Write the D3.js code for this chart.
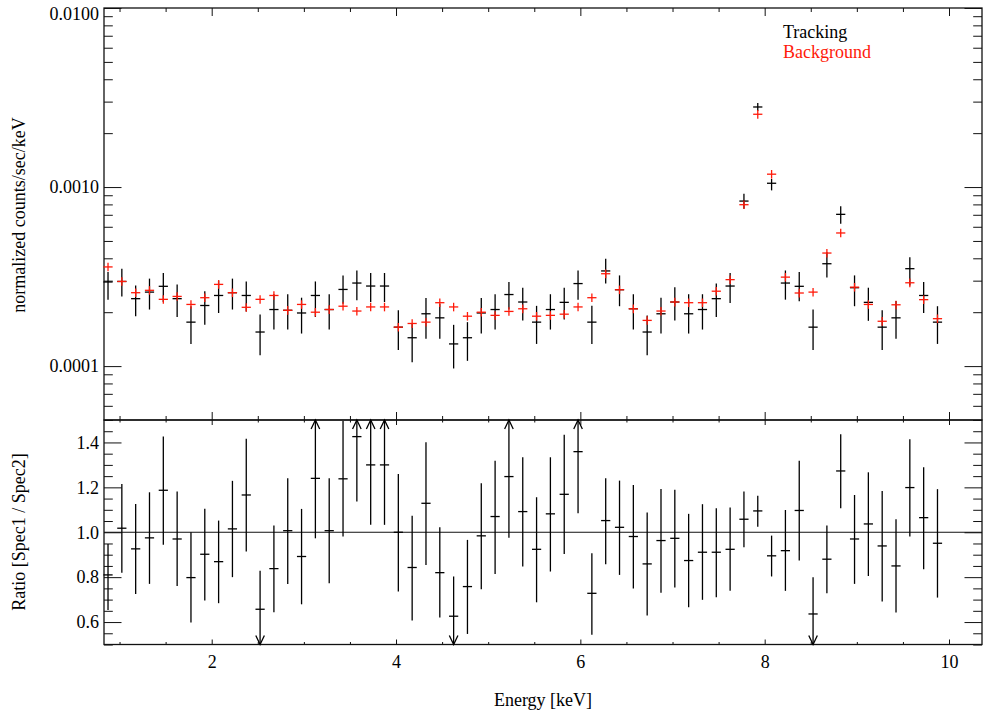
<!DOCTYPE html>
<html>
<head>
<meta charset="utf-8">
<script src="https://cdn.jsdelivr.net/npm/d3@7"></script>
<style>
body{margin:0;background:#fff;}
.canvas text{font-family:"Liberation Serif","Times New Roman",serif;font-size:18px;fill:#000;}
</style>
</head>
<body>
<div class="canvas"></div>
<script>
//bin centres in keV
var energy = [0.875,1.025,1.175,1.325,1.475,1.625,1.775,1.925,2.075,2.225,
    2.375,2.525,2.675,2.825,2.975,3.125,3.275,3.425,3.575,3.725,
    3.875,4.025,4.175,4.325,4.475,4.625,4.775,4.925,5.075,5.225,
    5.375,5.525,5.675,5.825,5.975,6.125,6.275,6.425,6.575,6.725,
    6.875,7.025,7.175,7.325,7.475,7.625,7.775,7.925,8.075,8.225,
    8.375,8.525,8.675,8.825,8.975,9.125,9.275,9.425,9.575,9.725,9.875];
var binHalf = 0.05;

//spectra, in units of 1e-4 counts/sec/keV
var unit = 1e-4;
var tracking = [2.95,2.97,2.38,2.59,2.79,2.38,1.76,2.18,2.48,2.57,
    2.48,1.55,2.07,2.05,1.98,2.48,2.07,2.68,2.91,2.80,
    2.80,1.65,1.44,1.96,1.86,1.33,1.44,1.98,2.07,2.51,
    2.28,1.76,2.07,2.27,2.89,1.76,3.40,2.67,2.09,1.55,
    1.96,2.28,1.96,2.07,2.38,2.80,8.35,28.0,10.5,2.91,
    2.79,1.65,3.73,7.04,2.74,2.27,1.65,1.86,3.50,2.48,1.76];
var trackingHi = [3.35,3.50,2.82,3.08,3.31,2.86,2.16,2.62,3.01,3.08,
    2.97,1.94,2.52,2.52,2.41,2.97,2.52,3.21,3.42,3.31,
    3.31,2.05,1.73,2.40,2.23,1.70,1.76,2.40,2.52,2.95,
    2.74,2.17,2.52,2.74,3.42,2.17,3.98,3.21,2.52,1.92,
    2.41,2.76,2.52,2.52,2.89,3.31,9.18,29.5,11.1,3.42,
    3.35,2.07,4.33,7.80,3.21,2.74,2.05,2.31,4.06,2.95,2.16];
var trackingLo = [2.35,2.45,1.90,2.07,2.28,1.88,1.33,1.70,1.98,2.07,
    2.02,1.15,1.60,1.60,1.52,1.88,1.60,2.23,2.33,2.28,
    2.28,1.23,1.05,1.42,1.42,0.97,1.07,1.52,1.60,2.07,
    1.80,1.33,1.60,1.82,2.35,1.33,2.89,2.16,1.60,1.15,
    1.52,1.80,1.52,1.60,1.88,2.25,7.57,26.6,9.58,2.35,
    2.30,1.23,3.12,6.24,2.16,1.79,1.23,1.42,2.82,1.98,1.33];
var background = [3.58,2.97,2.57,2.65,2.36,2.45,2.21,2.41,2.86,2.57,
    2.13,2.36,2.48,2.05,2.21,2.00,2.07,2.16,2.03,2.14,
    2.14,1.65,1.73,1.76,2.26,2.14,1.90,2.00,1.92,2.02,
    2.09,1.90,1.92,1.95,2.14,2.41,3.28,2.67,2.09,1.80,
    2.03,2.28,2.26,2.26,2.62,3.04,7.97,25.5,11.8,3.14,
    2.56,2.59,4.28,5.54,2.76,2.21,1.78,2.20,2.92,2.35,1.84];
var bgErrFrac = 0.055;

//ratio Spec1 / Spec2
var ratio = [0.810,1.018,0.926,0.975,1.187,0.970,0.798,0.902,0.869,1.015,
    1.166,0.657,0.838,1.007,0.892,1.240,1.007,1.238,1.426,1.300,
    1.300,1.000,0.843,1.129,0.820,0.626,0.758,0.984,1.070,1.248,
    1.092,0.924,1.082,1.169,1.359,0.728,1.052,1.022,0.981,0.859,
    0.963,0.973,0.874,0.911,0.911,0.924,1.058,1.095,0.895,0.918,
    1.097,0.636,0.880,1.273,0.970,1.037,0.939,0.850,1.199,1.065,0.951];
var ratioHi = [0.948,1.215,1.126,1.178,1.426,1.181,1.000,1.105,1.052,1.229,
    1.416,0.829,1.030,1.240,1.104,1.510,1.240,1.495,1.715,1.567,
    1.567,1.260,1.074,1.401,1.022,0.803,0.966,1.218,1.319,1.520,
    1.334,1.156,1.334,1.434,1.633,0.906,1.240,1.230,1.211,1.088,
    1.193,1.189,1.082,1.125,1.107,1.110,1.181,1.163,0.985,1.099,
    1.318,0.800,1.030,1.437,1.166,1.267,1.184,1.058,1.414,1.290,1.192];
var ratioLo = [0.654,0.820,0.725,0.770,0.944,0.761,0.598,0.696,0.684,0.800,
    0.914,0.485,0.644,0.770,0.679,0.973,0.773,0.981,1.137,1.033,
    1.033,0.736,0.607,0.854,0.620,0.449,0.547,0.746,0.814,0.976,
    0.847,0.688,0.825,0.903,1.085,0.543,0.857,0.810,0.750,0.629,
    0.731,0.754,0.666,0.699,0.710,0.739,0.933,1.025,0.803,0.739,
    0.874,0.472,0.728,1.107,0.770,0.805,0.691,0.642,0.981,0.835,0.709];

var xMajor = [2,4,6,8,10];
var yTopMajor = [0.0001,0.001,0.01];
var yBotMajor = [0.6,0.8,1.0,1.2,1.4];
var legend = [{name:"Tracking", color:"#000"},{name:"Background", color:"#ff1a0a"}];

var W = 983, H = 715;
var box = {l:104, r:982, t:8, m:420, b:644.5};

var svg = d3.select('.canvas')
    .append('svg')
    .attr('width',W)
    .attr('height',H);

var x = d3.scaleLinear().domain([0.8314,10.358]).range([box.l,box.r]);
var yTop = d3.scaleLog().domain([5e-5,0.01]).range([box.m,box.t]);
var yBot = d3.scaleLinear().domain([0.5,1.5]).range([box.b,box.m]);

var xMinor = d3.range(1,10.01,0.5).filter(function(v){ return xMajor.indexOf(v) < 0; });
var yTopMinor = yTop.ticks().filter(function(v){ return yTopMajor.every(function(m){ return Math.abs(v-m)/m > 1e-6; }); });
var yBotMinor = yBot.ticks(20).filter(function(v){ return yBotMajor.every(function(m){ return Math.abs(v-m) > 1e-6; }); });

//draws one set of ticks with a d3 axis, no domain path
function ticks(axis, vals, size, tx, ty, fmt){
    var g = svg.append('g')
        .attr('transform','translate('+tx+','+ty+')')
        .call(axis.tickValues(vals).tickSize(size).tickFormat(fmt || ''));
    g.select('.domain').remove();
    g.selectAll('line').attr('stroke','#111').attr('stroke-width',1);
    g.attr('font-family',null).attr('font-size',null);
    return g;
}

//top panel frame ticks
ticks(d3.axisTop(x), xMajor, -8, 0, box.t);
ticks(d3.axisTop(x), xMinor, -4, 0, box.t);
ticks(d3.axisBottom(x), xMajor, -8, 0, box.m);
ticks(d3.axisBottom(x), xMinor, -4, 0, box.m);
var gyl = ticks(d3.axisLeft(yTop).tickPadding(5), yTopMajor, -17.5, box.l, 0, d3.format('.4f'));
ticks(d3.axisLeft(yTop), yTopMinor, -8.8, box.l, 0);
ticks(d3.axisRight(yTop), yTopMajor, -17.5, box.r, 0);
ticks(d3.axisRight(yTop), yTopMinor, -8.8, box.r, 0);
//keep the top label inside the window like the original
gyl.selectAll('text').filter(function(d){ return d === 0.01; }).attr('y',6);

//bottom panel frame ticks
ticks(d3.axisTop(x), xMajor, -5, 0, box.m);
ticks(d3.axisTop(x), xMinor, -2.5, 0, box.m);
ticks(d3.axisBottom(x).tickPadding(11), xMajor, -5, 0, box.b, d3.format('d'));
ticks(d3.axisBottom(x), xMinor, -2.5, 0, box.b);
ticks(d3.axisLeft(yBot).tickPadding(5), yBotMajor, -17.5, box.l, 0, d3.format('.1f'));
ticks(d3.axisLeft(yBot), yBotMinor, -8.8, box.l, 0);
ticks(d3.axisRight(yBot), yBotMajor, -17.5, box.r, 0);
ticks(d3.axisRight(yBot), yBotMinor, -8.8, box.r, 0);

//frames
svg.append('rect').attr('x',box.l).attr('y',box.t).attr('width',box.r-box.l).attr('height',box.m-box.t)
    .attr('fill','none').attr('stroke','#111').attr('stroke-width',1.3);
svg.append('rect').attr('x',box.l).attr('y',box.m).attr('width',box.r-box.l).attr('height',box.b-box.m)
    .attr('fill','none').attr('stroke','#111').attr('stroke-width',1.3);

//ratio = 1 line
svg.append('line')
    .attr('x1',box.l).attr('x2',box.r)
    .attr('y1',yBot(1)).attr('y2',yBot(1))
    .attr('stroke','#111').attr('stroke-width',1);

//spectra
var spec = svg.append('g');
function crosses(vals, lo, hi, color){
    var g = spec.append('g').attr('stroke',color).attr('stroke-width',1.3);
    g.selectAll('.h').data(vals).enter().append('line')
        .attr('x1',function(d,i){ return x(energy[i]-binHalf); })
        .attr('x2',function(d,i){ return x(energy[i]+binHalf); })
        .attr('y1',function(d){ return yTop(d*unit); })
        .attr('y2',function(d){ return yTop(d*unit); });
    g.selectAll('.v').data(vals).enter().append('line')
        .attr('x1',function(d,i){ return x(energy[i]); })
        .attr('x2',function(d,i){ return x(energy[i]); })
        .attr('y1',function(d,i){ return yTop(lo(d,i)*unit); })
        .attr('y2',function(d,i){ return yTop(hi(d,i)*unit); });
}
crosses(tracking, function(d,i){ return trackingLo[i]; }, function(d,i){ return trackingHi[i]; }, legend[0].color);
crosses(background, function(d){ return d*(1-bgErrFrac); }, function(d){ return d*(1+bgErrFrac); }, legend[1].color);

//ratio panel
var bot = svg.append('g').attr('stroke','#000').attr('stroke-width',1.3).attr('fill','none');
bot.selectAll('.h').data(ratio).enter().append('line')
    .attr('x1',function(d,i){ return x(energy[i]-binHalf); })
    .attr('x2',function(d,i){ return x(energy[i]+binHalf); })
    .attr('y1',function(d){ return yBot(d); })
    .attr('y2',function(d){ return yBot(d); });
bot.selectAll('.v').data(ratio).enter().append('line')
    .attr('x1',function(d,i){ return x(energy[i]); })
    .attr('x2',function(d,i){ return x(energy[i]); })
    .attr('y1',function(d,i){ return yBot(Math.max(ratioLo[i],0.5)); })
    .attr('y2',function(d,i){ return yBot(Math.min(ratioHi[i],1.5)); });
//arrows where the error runs off the panel
bot.selectAll('.up').data(ratio.map(function(d,i){ return i; }).filter(function(i){ return ratioHi[i] > 1.5; }))
    .enter().append('path')
    .attr('d',function(i){ var cx = x(energy[i]), cy = yBot(1.5);
        return 'M'+(cx-4.3)+','+(cy+9)+'L'+cx+','+cy+'L'+(cx+4.3)+','+(cy+9); });
bot.selectAll('.dn').data(ratio.map(function(d,i){ return i; }).filter(function(i){ return ratioLo[i] < 0.5; }))
    .enter().append('path')
    .attr('d',function(i){ var cx = x(energy[i]), cy = yBot(0.5);
        return 'M'+(cx-4.3)+','+(cy-9)+'L'+cx+','+cy+'L'+(cx+4.3)+','+(cy-9); });

//legend
svg.selectAll('.leg').data(legend).enter().append('text')
    .attr('x',783)
    .attr('y',function(d,i){ return 37.5 + i*20.5; })
    .style('fill',function(d){ return d.color; })
    .text(function(d){ return d.name; });

//axis titles
svg.append('text')
    .attr('transform','translate(25,215) rotate(-90)')
    .attr('text-anchor','middle')
    .text('normalized counts/sec/keV');
svg.append('text')
    .attr('transform','translate(25,532) rotate(-90)')
    .attr('text-anchor','middle')
    .text('Ratio [Spec1 / Spec2]');
svg.append('text')
    .attr('x',(box.l+box.r)/2)
    .attr('y',706)
    .attr('text-anchor','middle')
    .text('Energy [keV]');
</script>
</body>
</html>
